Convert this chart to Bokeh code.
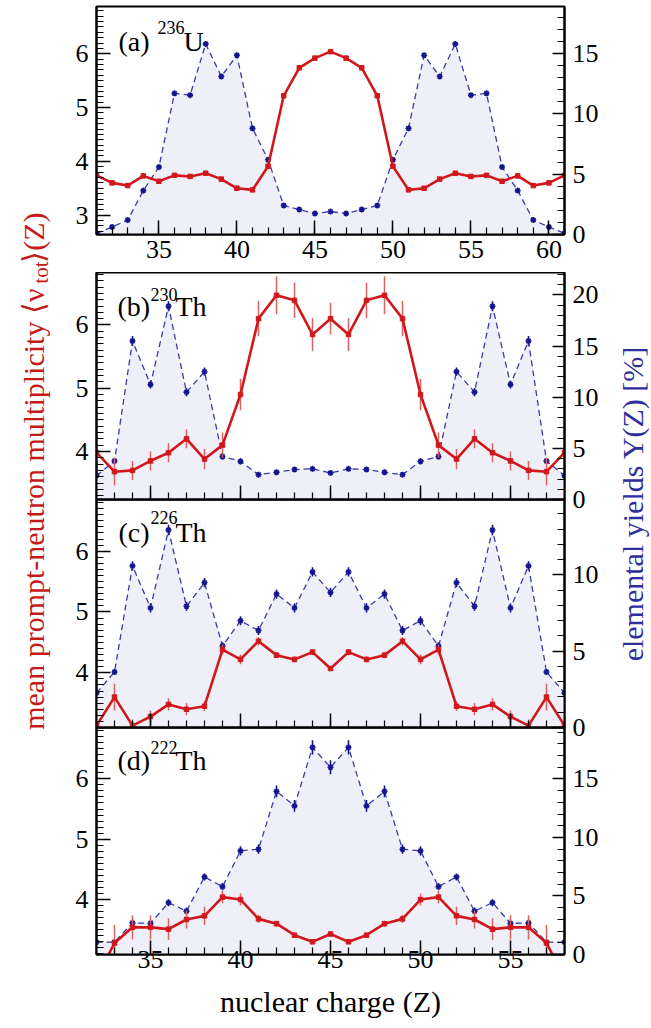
from math import pi
from bokeh.plotting import figure
from bokeh.models import Range1d, LinearAxis, SingleIntervalTicker, Label, ColumnDataSource
from bokeh.layouts import row, column
from bokeh.embed import file_html
from bokeh.resources import INLINE

# ---------------- data ----------------
Z_a = [31, 32, 33, 34, 35, 36, 37, 38, 39, 40, 41, 42, 43, 44, 45, 46,
       47, 48, 49, 50, 51, 52, 53, 54, 55, 56, 57, 58, 59, 60, 61]
nu_a = [3.74, 3.60, 3.55, 3.73, 3.63, 3.74, 3.72, 3.78, 3.67, 3.50, 3.47, 3.91, 5.22, 5.74, 5.92, 6.04,
        5.92, 5.74, 5.22, 3.91, 3.47, 3.50, 3.67, 3.78, 3.72, 3.74, 3.63, 3.73, 3.55, 3.60, 3.74]
nu_err_a = [0.02, 0.02, 0.02, 0.02, 0.02, 0.02, 0.02, 0.02, 0.02, 0.02, 0.02, 0.02, 0.02, 0.02, 0.02, 0.02,
            0.02, 0.02, 0.02, 0.02, 0.02, 0.02, 0.02, 0.02, 0.02, 0.02, 0.02, 0.02, 0.02, 0.02, 0.02]
Y_a = [0.1, 0.62, 1.2, 3.64, 5.6, 11.7, 11.55, 15.8, 13.1, 14.86, 8.8, 6.2, 2.4, 2.07, 1.74, 1.9,
       1.74, 2.07, 2.4, 6.2, 8.8, 14.86, 13.1, 15.8, 11.55, 11.7, 5.6, 3.64, 1.2, 0.62, 0.1]
Y_err_a = [0.1, 0.1, 0.1, 0.1, 0.1, 0.1, 0.1, 0.1, 0.1, 0.1, 0.1, 0.1, 0.1, 0.1, 0.1, 0.1,
           0.1, 0.1, 0.1, 0.1, 0.1, 0.1, 0.1, 0.1, 0.1, 0.1, 0.1, 0.1, 0.1, 0.1, 0.1]

Z_bcd = [32, 33, 34, 35, 36, 37, 38, 39, 40, 41, 42, 43, 44, 45,
         46, 47, 48, 49, 50, 51, 52, 53, 54, 55, 56, 57, 58]

nu_b = [3.98, 3.68, 3.70, 3.85, 3.98, 4.20, 3.88, 4.10, 4.90, 6.10, 6.47, 6.39, 5.85, 6.10,
        5.85, 6.39, 6.47, 6.10, 4.90, 4.10, 3.88, 4.20, 3.98, 3.85, 3.70, 3.68, 3.98]
nu_err_b = [0.0, 0.22, 0.15, 0.15, 0.15, 0.15, 0.16, 0.20, 0.25, 0.28, 0.30, 0.28, 0.26, 0.25,
            0.26, 0.28, 0.30, 0.28, 0.25, 0.20, 0.16, 0.15, 0.15, 0.15, 0.15, 0.22, 0.0]
Y_b = [2.33, 3.76, 15.5, 11.25, 18.9, 10.5, 12.5, 4.2, 3.73, 2.43, 2.66, 2.93, 3.0, 2.6,
       3.0, 2.93, 2.66, 2.43, 3.73, 4.2, 12.5, 10.5, 18.9, 11.25, 15.5, 3.76, 2.33]
Y_err_b = [0.2, 0.3, 0.5, 0.4, 0.5, 0.4, 0.4, 0.3, 0.3, 0.25, 0.25, 0.25, 0.25, 0.25,
           0.25, 0.25, 0.25, 0.25, 0.3, 0.3, 0.4, 0.4, 0.5, 0.4, 0.5, 0.3, 0.2]

nu_c = [3.13, 3.60, 3.13, 3.28, 3.48, 3.40, 3.45, 4.38, 4.22, 4.52, 4.29, 4.22, 4.34, 4.07,
        4.34, 4.22, 4.29, 4.52, 4.22, 4.38, 3.45, 3.40, 3.48, 3.28, 3.13, 3.60, 3.13]
nu_err_c = [0.0, 0.22, 0.10, 0.10, 0.10, 0.10, 0.08, 0.08, 0.08, 0.07, 0.05, 0.05, 0.05, 0.04,
            0.05, 0.05, 0.05, 0.07, 0.08, 0.08, 0.08, 0.10, 0.10, 0.10, 0.10, 0.22, 0.0]
Y_c = [2.27, 3.64, 10.6, 7.84, 12.95, 7.95, 9.5, 5.34, 7.0, 6.36, 8.75, 7.84, 10.2, 8.86,
       10.2, 7.84, 8.75, 6.36, 7.0, 5.34, 9.5, 7.95, 12.95, 7.84, 10.6, 3.64, 2.27]
Y_err_c = [0.15, 0.2, 0.3, 0.3, 0.35, 0.3, 0.3, 0.25, 0.3, 0.3, 0.3, 0.3, 0.3, 0.3,
           0.3, 0.3, 0.3, 0.3, 0.3, 0.25, 0.3, 0.3, 0.35, 0.3, 0.3, 0.2, 0.15]

nu_d = [2.70, 3.28, 3.54, 3.54, 3.51, 3.67, 3.73, 4.04, 4.00, 3.68, 3.60, 3.41, 3.30, 3.43,
        3.30, 3.41, 3.60, 3.68, 4.00, 4.04, 3.73, 3.67, 3.51, 3.54, 3.54, 3.28, 2.70]
nu_err_d = [0.30, 0.30, 0.20, 0.20, 0.18, 0.15, 0.15, 0.10, 0.10, 0.07, 0.05, 0.04, 0.03, 0.03,
            0.03, 0.04, 0.05, 0.07, 0.10, 0.10, 0.15, 0.15, 0.18, 0.20, 0.20, 0.30, 0.30]
Y_d = [1.06, 1.06, 2.7, 2.66, 4.43, 3.71, 6.63, 5.8, 8.86, 9.0, 13.94, 12.7, 17.7, 16.0,
       17.7, 12.7, 13.94, 9.0, 8.86, 5.8, 6.63, 3.71, 4.43, 2.66, 2.7, 1.06, 1.06]
Y_err_d = [0.2, 0.2, 0.3, 0.3, 0.3, 0.3, 0.3, 0.3, 0.4, 0.4, 0.5, 0.5, 0.6, 0.6,
           0.6, 0.5, 0.5, 0.4, 0.4, 0.3, 0.3, 0.3, 0.3, 0.3, 0.3, 0.2, 0.2]

panel_tags = ["(a)", "(b)", "(c)", "(d)"]
nuclei_mass = ["236", "230", "226", "222"]
nuclei_sym = ["U", "Th", "Th", "Th"]

x_label = "nuclear charge (Z)"
y_left_label_main = "mean prompt-neutron multiplicity \u27e8\u03bd"
y_left_label_sub = "tot"
y_left_label_end = "\u27e9(Z)"
y_right_label = "elemental yields Y(Z) [%]"

# ---------------- style ----------------
FONT = "Liberation Serif"
RED = "#d0181c"
RED_ERR = "#de6262"
BLUE_LINE = "#3a3aaa"
BLUE_MK = "#14148e"
FILL = "#efeff8"
LABEL_RED = "#c41a1a"
LABEL_BLUE = "#2e2e9e"

LEFT_W = 58       # width of the left label strip
PANEL_W = 552     # width of each panel figure
RIGHT_W = 41      # width of the right label strip


def make_panel(Z, nu, nu_err, Y, Y_err, xr, yl, yr, height, mb_top, mb_bottom,
               xlabels, xstandoff, tag, mass, sym, tag_pos):
    p = figure(width=PANEL_W, height=height, x_range=Range1d(*xr), y_range=Range1d(*yl),
               output_backend="svg", toolbar_location=None,
               min_border_left=96 - LEFT_W, min_border_right=46,
               min_border_top=mb_top, min_border_bottom=mb_bottom,
               background_fill_color=None, border_fill_color=None,
               outline_line_color="black", outline_line_width=2)
    p.extra_y_ranges = {"y2": Range1d(*yr)}
    p.grid.visible = False

    p.xaxis[0].ticker = SingleIntervalTicker(interval=5, num_minor_ticks=5)
    p.yaxis[0].ticker = SingleIntervalTicker(interval=1, num_minor_ticks=10)
    right = LinearAxis(y_range_name="y2", ticker=SingleIntervalTicker(interval=5, num_minor_ticks=5))
    p.add_layout(right, "right")

    for ax in [p.xaxis[0], p.yaxis[0], right]:
        ax.major_tick_in = 14
        ax.major_tick_out = 0
        ax.minor_tick_in = 7
        ax.minor_tick_out = 0
        ax.axis_line_width = 2
        ax.axis_line_color = "black"
        ax.major_tick_line_width = 1.5
        ax.minor_tick_line_width = 1.2
        ax.major_tick_line_color = "black"
        ax.minor_tick_line_color = "black"
        ax.major_label_text_font = FONT
        ax.major_label_text_font_size = "26px"
        ax.major_label_text_color = "black"
        ax.major_label_standoff = 8
    right.major_tick_in = 12

    xa = p.xaxis[0]
    xa.major_label_standoff = xstandoff
    if not xlabels:
        xa.major_label_text_color = None

    src = ColumnDataSource(dict(
        z=Z, nu=nu,
        nlo=[a - b for a, b in zip(nu, nu_err)], nhi=[a + b for a, b in zip(nu, nu_err)],
        y=Y,
        ylo=[a - b for a, b in zip(Y, Y_err)], yhi=[a + b for a, b in zip(Y, Y_err)],
    ))

    p.varea(x="z", y1=0, y2="y", source=src, y_range_name="y2", fill_color=FILL)
    p.segment(x0="z", y0="ylo", x1="z", y1="yhi", source=src, y_range_name="y2",
              line_color=BLUE_MK, line_width=1.6)
    p.line("z", "y", source=src, y_range_name="y2", line_color=BLUE_LINE,
           line_width=1.3, line_dash="6 4")
    p.scatter("z", "y", source=src, y_range_name="y2", marker="asterisk", size=6,
              line_color=BLUE_MK, line_width=1.6)
    p.segment(x0="z", y0="nlo", x1="z", y1="nhi", source=src,
              line_color=RED_ERR, line_width=1.5)
    p.line("z", "nu", source=src, line_color=RED, line_width=2.6)
    p.scatter("z", "nu", source=src, marker="square", size=4.5,
              fill_color=RED, line_color=RED)

    # panel tag: positions in screen pixels relative to the plot frame
    tx, ty, sx, sy, ex = tag_pos
    p.add_layout(Label(x=tx, y=ty, x_units="screen", y_units="screen", text=tag,
                       text_font=FONT, text_font_size="28px", text_color="black",
                       text_baseline="alphabetic", text_align="left"))
    p.add_layout(Label(x=sx, y=sy, x_units="screen", y_units="screen", text=mass,
                       text_font=FONT, text_font_size="18px", text_color="black",
                       text_baseline="alphabetic", text_align="left"))
    p.add_layout(Label(x=ex, y=ty, x_units="screen", y_units="screen", text=sym,
                       text_font=FONT, text_font_size="28px", text_color="black",
                       text_baseline="alphabetic", text_align="left"))
    return p


fa = make_panel(Z_a, nu_a, nu_err_a, Y_a, Y_err_a, (31, 61), (2.64, 6.88), (0, 18.9),
                272, 6, 38, True, 6, panel_tags[0], nuclei_mass[0], nuclei_sym[0],
                (22, 193, 61, 207, 87))
fb = make_panel(Z_bcd, nu_b, nu_err_b, Y_b, Y_err_b, (32, 58), (3.24, 6.83), (0, 22.2),
                267, 0, 40, False, 0, panel_tags[1], nuclei_mass[1], nuclei_sym[1],
                (21, 193, 54, 205, 79))
fc = make_panel(Z_bcd, nu_c, nu_err_c, Y_c, Y_err_c, (32, 58), (3.10, 6.85), (0, 14.95),
                284, 16, 40, False, 0, panel_tags[2], nuclei_mass[2], nuclei_sym[2],
                (22, 195, 54, 210, 79))
fd = make_panel(Z_bcd, nu_d, nu_err_d, Y_d, Y_err_d, (32, 58), (3.09, 6.85), (0, 19.4),
                317, 16, 74, True, -4, panel_tags[3], nuclei_mass[3], nuclei_sym[3],
                (21, 194, 54, 207, 79))
fd.xaxis[0].axis_label = x_label
fd.xaxis[0].axis_label_text_font = FONT
fd.xaxis[0].axis_label_text_font_size = "30px"
fd.xaxis[0].axis_label_text_font_style = "normal"
fd.xaxis[0].axis_label_text_color = "black"
fd.xaxis[0].axis_label_standoff = 14

# panels touch each other: pull the next panel up over the previous one's bottom border
fc.margin = (-56, 0, 0, 0)
fd.margin = (-56, 0, 0, 0)


def side_fig(w):
    s = figure(width=w, height=1028, x_range=Range1d(0, w), y_range=Range1d(0, 1028),
               output_backend="svg", toolbar_location=None, min_border=0,
               x_axis_location=None, y_axis_location=None, outline_line_color=None,
               background_fill_color=None, border_fill_color=None)
    s.grid.visible = False
    return s


lf = side_fig(LEFT_W)
lf.add_layout(Label(x=33, y=740, x_units="screen", y_units="screen", text=y_left_label_main,
                    angle=pi / 2, text_align="right", text_baseline="middle",
                    text_font=FONT, text_font_size="30px", text_color=LABEL_RED))
lf.add_layout(Label(x=40, y=767, x_units="screen", y_units="screen", text=y_left_label_sub,
                    angle=pi / 2, text_align="right", text_baseline="middle",
                    text_font=FONT, text_font_size="21px", text_color=LABEL_RED))
lf.add_layout(Label(x=33, y=816, x_units="screen", y_units="screen", text=y_left_label_end,
                    angle=pi / 2, text_align="right", text_baseline="middle",
                    text_font=FONT, text_font_size="30px", text_color=LABEL_RED))

rf = side_fig(RIGHT_W)
rf.add_layout(Label(x=22, y=525, x_units="screen", y_units="screen", text=y_right_label,
                    angle=pi / 2, text_align="center", text_baseline="middle",
                    text_font=FONT, text_font_size="30px", text_color=LABEL_BLUE))

layout = row(lf, column(fa, fb, fc, fd), rf)

open("out.html", "w").write(file_html(layout, INLINE))
